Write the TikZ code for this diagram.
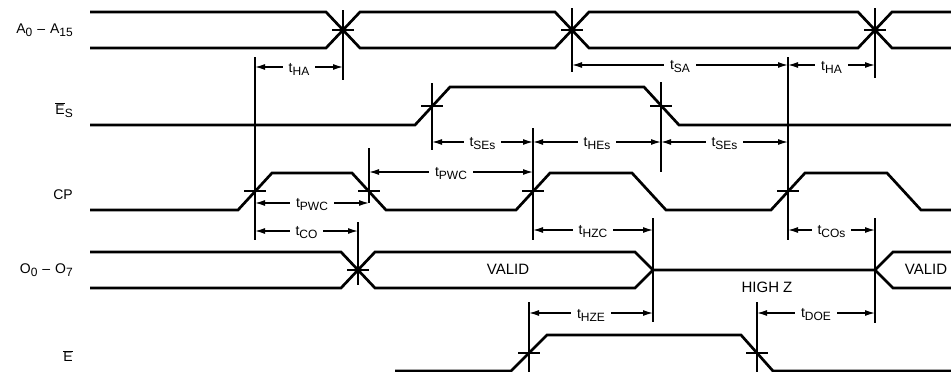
\documentclass[tikz,border=0pt]{standalone}
\usepackage{fontspec}
\setmainfont{Liberation Sans}
\usetikzlibrary{arrows.meta}

\newcommand{\lo}[1]{\lower3pt\hbox{\fontsize{12}{12}\selectfont #1}}
\newcommand{\tm}[1]{t\lower3pt\hbox{\fontsize{12}{12}\selectfont #1}}
\newcommand{\upto}{\hspace{5pt}--\hspace{5pt}}

\begin{document}
\begin{tikzpicture}[x=1pt, y=-1pt, >={Latex[length=10pt,width=6pt]},
    sig/.style={line width=2.7pt, line join=miter},
    guide/.style={line width=1.2pt},
    crosstick/.style={line width=1.2pt},
    dim/.style={line width=1.3pt, <->},
    tlabel/.style={fill=white, inner xsep=6pt, inner ysep=1pt, yshift=-2pt, font=\fontsize{14}{14}\selectfont},
    signame/.style={anchor=east, inner sep=0pt, font=\fontsize{14}{14}\selectfont},
    buslabel/.style={font=\fontsize{15}{15}\selectfont}]
    \useasboundingbox (0,0) rectangle (951,372);

    % Time marks {clock edges, address and output changes}
    \coordinate (cp1r) at (255,0);
    \coordinate (cp1f) at (369,0);
    \coordinate (cp2r) at (533,0);
    \coordinate (cp3r) at (788,0);
    \coordinate (ad1)  at (343,0);
    \coordinate (ad2)  at (572,0);
    \coordinate (ad3)  at (875,0);
    \coordinate (es1)  at (432,0);
    \coordinate (es2)  at (661,0);
    \coordinate (oq1)  at (358,0);
    \coordinate (ohz)  at (653,0);
    \coordinate (e1)   at (529,0);
    \coordinate (e2)   at (757,0);

    % Signal names
    \node [signame] (nA)  at (73,30)  {A\lo{0}\upto A\lo{15}};
    \node [signame] (nES) at (73,110) {$\overline{\mbox{E}}$\lo{S}};
    \node [signame] (nCP) at (73,195) {CP};
    \node [signame] (nO)  at (73,270) {O\lo{0}\upto O\lo{7}};
    \node [signame] (nE)  at (73,356) {$\overline{\mbox{E}}$};

    % Waveforms
    \draw [sig] (90,12) -- (326,12) -- (360,48) -- (555,48) -- (589,12) -- (858,12) -- (892,48) -- (951,48);
    \draw [sig] (90,48) -- (326,48) -- (360,12) -- (555,12) -- (589,48) -- (858,48) -- (892,12) -- (951,12);
    \draw [sig] (90,125) -- (415,125) -- (450,87) -- (644,87) -- (679,125) -- (951,125);
    \draw [sig] (90,210) -- (238,210) -- (272,173) -- (352,173) -- (386,210) -- (516,210) -- (550,173)
                -- (632,173) -- (666,210) -- (771,210) -- (805,173) -- (887,173) -- (921,210) -- (951,210);
    \draw [sig] (90,252) -- (341,252) -- (375,288) -- (635,288) -- (653,270) -- (875,270) -- (893,252) -- (951,252);
    \draw [sig] (90,288) -- (341,288) -- (375,252) -- (635,252) -- (653,270);
    \draw [sig] (875,270) -- (893,288) -- (951,288);
    \draw [sig] (395,371) -- (511,371) -- (547,335) -- (741,335) -- (773,371) -- (951,371);

    \node [buslabel] (v1) at (508,269) {VALID};
    \node [buslabel] (hz) at (767,287) {HIGH Z};
    \node [buslabel] (v2) at (926,269) {VALID};

    % Crossing ticks
    \foreach \x/\y in {343/30, 572/30, 875/30, 432/106, 661/106, 255/191, 369/191,
                       533/191, 788/191, 358/270, 529/353, 757/353}
        \draw [crosstick] (\x-11,\y) -- (\x+11,\y);

    % Guide lines
    \foreach \n/\ya/\yb in {cp1r/57/240, ad1/10/80, ad2/8/72, ad3/8/78, es1/83/150, es2/82/172,
                            cp1f/148/203, cp2r/128/240, cp3r/57/240, oq1/222/285, ohz/218/322,
                            ad3/218/323, e1/302/372, e2/302/372}
        \draw [guide] (\n |- 0,\ya) -- (\n |- 0,\yb);

    % Timing parameters
    \draw [dim] (cp1r |- 0,67)  -- node [tlabel] {\tm{HA}}  (ad1 |- 0,67);
    \draw [dim] (ad2 |- 0,65)   -- node [tlabel] {\tm{SA}}  (cp3r |- 0,65);
    \draw [dim] (cp3r |- 0,65)  -- node [tlabel] {\tm{HA}}  (ad3 |- 0,65);
    \draw [dim] (es1 |- 0,142)  -- node [tlabel] {\tm{SEs}} (cp2r |- 0,142);
    \draw [dim] (cp2r |- 0,142) -- node [tlabel] {\tm{HEs}} (es2 |- 0,142);
    \draw [dim] (es2 |- 0,142)  -- node [tlabel] {\tm{SEs}} (cp3r |- 0,142);
    \draw [dim] (cp1f |- 0,172) -- node [tlabel] {\tm{PWC}} (cp2r |- 0,172);
    \draw [dim] (cp1r |- 0,203) -- node [tlabel] {\tm{PWC}} (cp1f |- 0,203);
    \draw [dim] (cp1r |- 0,231) -- node [tlabel] {\tm{CO}}  (oq1 |- 0,231);
    \draw [dim] (cp2r |- 0,230) -- node [tlabel] {\tm{HZC}} (ohz |- 0,230);
    \draw [dim] (cp3r |- 0,230) -- node [tlabel] {\tm{COs}} (ad3 |- 0,230);
    \draw [dim] (e1 |- 0,313)   -- node [tlabel] {\tm{HZE}} (ohz |- 0,313);
    \draw [dim] (e2 |- 0,313)   -- node [tlabel] {\tm{DOE}} (ad3 |- 0,313);
\end{tikzpicture}
\end{document}
